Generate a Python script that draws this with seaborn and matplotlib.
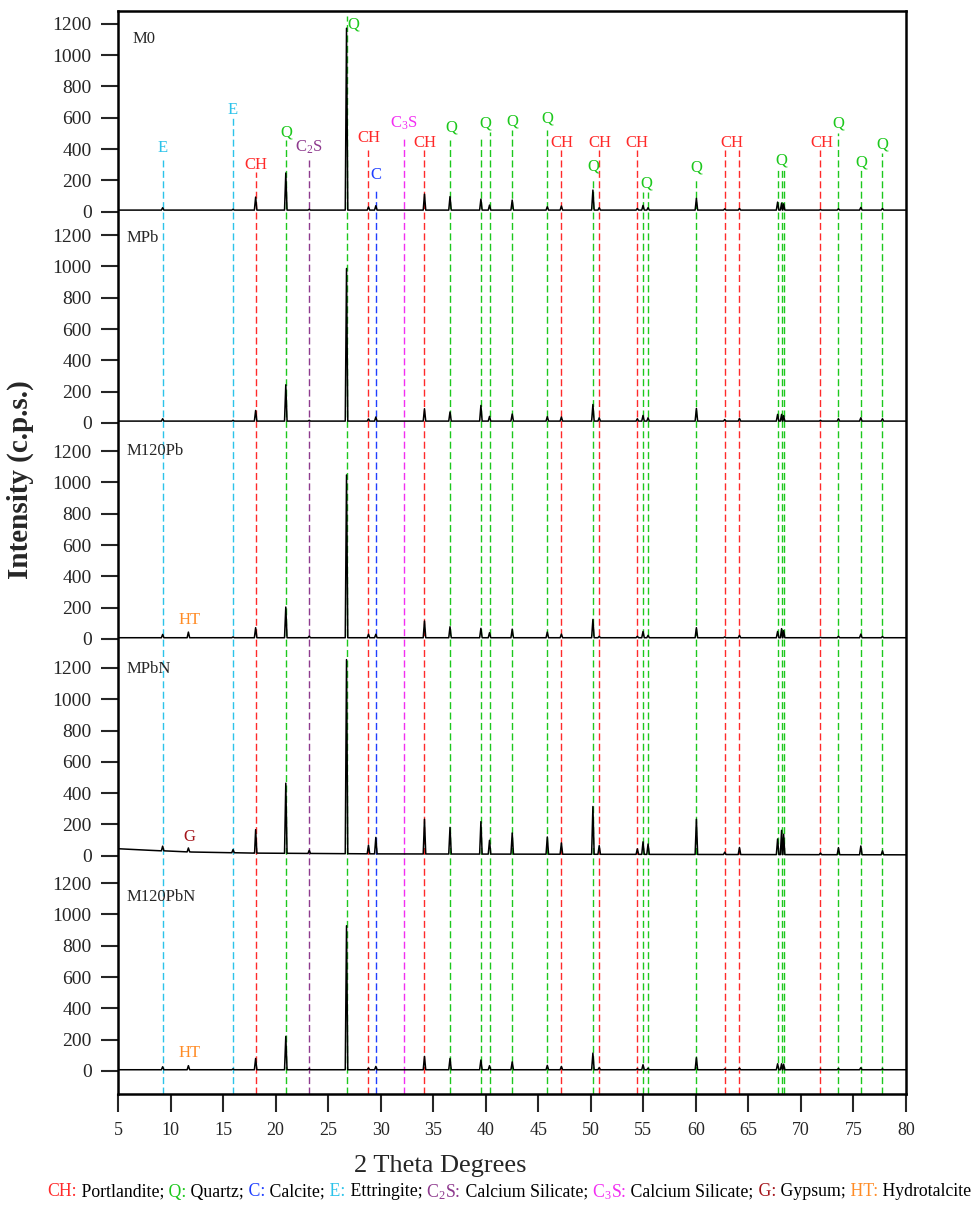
import numpy as np
import matplotlib
matplotlib.use("Agg")
import matplotlib.pyplot as plt
import seaborn as sns

# --- data ---------------------------------------------------------------
samples = ["M0", "MPb", "M120Pb", "MPbN", "M120PbN"]

# peak positions (2 theta) used by every pattern
peak_pos = [9.25, 11.7, 15.95, 18.1, 20.97, 23.2, 26.75, 28.84, 29.54, 34.17,
            36.6, 39.54, 40.36, 42.52, 45.86, 47.2, 50.2, 50.8, 54.43, 54.97,
            55.45, 60.05, 62.75, 64.15, 67.78, 68.16, 68.35, 71.86, 73.57,
            75.7, 77.76]

# peak heights above the background (c.p.s.)
h_m0 = [15, 0, 5, 83, 237, 5, 1162, 20, 28, 102, 86, 70, 32, 64, 21, 26, 128,
        15, 10, 30, 15, 75, 8, 10, 51, 45, 40, 3, 8, 17, 10]
h_mpb = [15, 0, 5, 68, 232, 5, 975, 14, 26, 79, 58, 100, 30, 45, 28, 26, 106,
         21, 15, 36, 21, 81, 10, 17, 43, 43, 35, 5, 15, 21, 15]
h_m120pb = [21, 36, 5, 64, 196, 10, 1040, 22, 22, 107, 70, 60, 32, 55, 36, 23,
            117, 9, 9, 40, 15, 64, 5, 15, 40, 58, 45, 3, 9, 23, 8]
h_mpbn = [30, 25, 20, 150, 448, 20, 1240, 55, 105, 222, 170, 207, 88, 135, 110,
          72, 305, 55, 35, 80, 66, 225, 15, 45, 100, 155, 130, 10, 45, 56, 25]
h_m120pbn = [19, 26, 5, 72, 213, 5, 920, 11, 21, 85, 72, 62, 26, 50, 28, 21,
             106, 13, 6, 32, 10, 77, 5, 10, 38, 38, 35, 3, 8, 13, 5]
heights = [h_m0, h_mpb, h_m120pb, h_mpbn, h_m120pbn]

# background level of each pattern
bg_x = [[5, 80], [5, 80], [5, 80], [5, 8, 12, 18, 30, 80], [5, 80]]
bg_y = [[10, 10], [12, 12], [8, 8], [45, 35, 24, 17, 12, 6], [8, 8]]

# reference lines (phase markers)
line_pos = [9.25, 15.95, 18.1, 20.97, 23.2, 26.75, 28.84, 29.54, 32.24, 34.17,
            36.6, 39.54, 40.36, 42.52, 45.86, 47.2, 50.2, 50.8, 54.43, 54.97,
            55.45, 60.05, 62.75, 64.15, 67.78, 68.16, 68.35, 71.86, 73.57,
            75.7, 77.76]
line_phase = ["E", "E", "CH", "Q", "C2S", "Q", "CH", "C", "C3S", "CH", "Q", "Q",
              "Q", "Q", "Q", "CH", "Q", "CH", "CH", "Q", "Q", "Q", "CH", "CH",
              "Q", "Q", "Q", "CH", "Q", "Q", "Q"]
line_top = [330, 598, 254, 458, 330, 1250, 394, 151, 477, 394, 458, 477, 511,
            522, 522, 394, 202, 394, 394, 126, 126, 215, 394, 394, 265, 265,
            265, 394, 502, 265, 374]

# phase labels in the top pattern
lab_phase = ["E", "E", "CH", "Q", "C2S", "Q", "CH", "C", "C3S", "CH", "Q", "Q",
             "Q", "Q", "CH", "Q", "CH", "CH", "Q", "Q", "CH", "Q", "CH", "Q",
             "Q", "Q"]
lab_x = [9.25, 15.95, 18.1, 21.06, 23.2, 27.35, 28.84, 29.54, 32.24, 34.17,
         36.7, 39.95, 42.55, 45.9, 47.2, 50.2, 50.9, 54.43, 55.26, 60.05,
         63.45, 68.1, 72.0, 73.57, 75.7, 77.76]
lab_y = [406, 650, 298, 503, 413, 1193, 470, 234, 566, 438, 535, 566, 573, 598,
         438, 286, 438, 438, 183, 279, 438, 330, 438, 566, 317, 426]

# extra labels in the lower patterns
extra_sample = ["M120Pb", "MPbN", "M120PbN"]
extra_phase = ["HT", "G", "HT"]
extra_x = [11.8, 11.76, 11.8]
extra_y = [121, 123, 117]

panel_label_y = [1100, 1180, 1200, 1195, 1110]

phase_text = {"CH": "CH", "Q": "Q", "C": "C", "E": "E", "C2S": "C$_2$S",
              "C3S": "C$_3$S", "G": "G", "HT": "HT"}
phase_color = {"CH": "#FF2A2A", "Q": "#1DC81D", "C": "#1F3FFF", "E": "#2CC3EA",
               "C2S": "#8E3A8E", "C3S": "#F22EF2", "G": "#A3141A",
               "HT": "#FF8C26"}
footer_phase = ["CH", "Q", "C", "E", "C2S", "C3S", "G", "HT"]
footer_name = ["Portlandite;", "Quartz;", "Calcite;", "Ettringite;",
               "Calcium Silicate;", "Calcium Silicate;", "Gypsum;",
               "Hydrotalcite"]

# --- layout --------------------------------------------------------------
offsets = [5490, 4140, 2760, 1375, 0]
half_w = 0.12
y_lo, y_hi = -147, 6772

sns.set_style("ticks")
plt.rcParams["font.family"] = ["Liberation Serif", "DejaVu Serif"]
plt.rcParams["mathtext.fontset"] = "custom"
plt.rcParams["mathtext.rm"] = "Liberation Serif"
plt.rcParams["mathtext.it"] = "Liberation Serif:italic"

fig = plt.figure(figsize=(9.73, 12.05), dpi=100)
ax = fig.add_axes([118 / 973, 1 - 1094 / 1205, 788 / 973, 1083 / 1205])

# phase marker lines
for x, ph, top in zip(line_pos, line_phase, line_top):
    ax.plot([x, x], [y_lo, top + offsets[0]], color=phase_color[ph], lw=1.0,
            dashes=(5, 2.5), zorder=1)

# XRD patterns
for name, h, bx, by, off in zip(samples, heights, bg_x, bg_y, offsets):
    xs = list(bx)
    ys = list(by)
    for p, hh in zip(peak_pos, h):
        b = np.interp(p, bx, by)
        xs += [p - half_w, p, p + half_w]
        ys += [b, b + hh, b]
    order = np.argsort(xs, kind="stable")
    xs = np.array(xs)[order]
    ys = np.array(ys)[order] + off
    sns.lineplot(x=xs, y=ys, color="black", lw=1.1, estimator=None, sort=False,
                 ax=ax, zorder=3)

# labels
for ph, x, y in zip(lab_phase, lab_x, lab_y):
    ax.text(x, y + offsets[0], phase_text[ph], color=phase_color[ph],
            fontsize=12, ha="center", va="center", zorder=4)

for s, ph, x, y in zip(extra_sample, extra_phase, extra_x, extra_y):
    off = offsets[samples.index(s)]
    ax.text(x, y + off, phase_text[ph], color=phase_color[ph], fontsize=12,
            ha="center", va="center", zorder=4)

for name, off, ly in zip(samples, offsets, panel_label_y):
    ax.text(6.4 if name == "M0" else 5.8, ly + off, name, fontsize=12,
            ha="left", va="center", zorder=4)

# axes
ax.set_xlim(5, 80)
ax.set_ylim(y_lo, y_hi)
ax.set_xticks(np.arange(5, 81, 5))
yt, yl = [], []
for off in offsets:
    for v in range(0, 1201, 200):
        yt.append(off + v)
        yl.append(str(v))
ax.set_yticks(yt)
ax.set_yticklabels(yl)
ax.tick_params(axis="y", direction="out", length=12, width=1.5, pad=7,
               labelsize=14)
ax.tick_params(axis="x", direction="out", length=13, width=1.5, pad=7,
               labelsize=13)
for sp in ax.spines.values():
    sp.set_linewidth(1.8)
    sp.set_color("black")
ax.set_xlabel("")
ax.set_ylabel("")

fig.text(20 / 973, 1 - 480 / 1205, "Intensity (c.p.s.)", rotation=90,
         fontsize=21, fontweight="bold", ha="center", va="center")
fig.text(440 / 973, 1 - 1166 / 1205, "2 Theta Degrees", fontsize=19,
         ha="center", va="center")

# footer legend, built piece by piece
renderer = fig.canvas.get_renderer()
pieces = []
for i, (ph, nm) in enumerate(zip(footer_phase, footer_name)):
    pieces.append(((" " if i else "") + phase_text[ph] + ":", phase_color[ph]))
    pieces.append((" " + nm, "black"))
texts = [fig.text(0, 1 - 1192 / 1205, s, color=c, fontsize=12.8, ha="left",
                  va="center") for s, c in pieces]
widths = [t.get_window_extent(renderer).width for t in texts]
x0 = 509 - sum(widths) / 2
for t, w in zip(texts, widths):
    t.set_x(x0 / 973)
    x0 += w

fig.savefig("out.png", dpi=100)
